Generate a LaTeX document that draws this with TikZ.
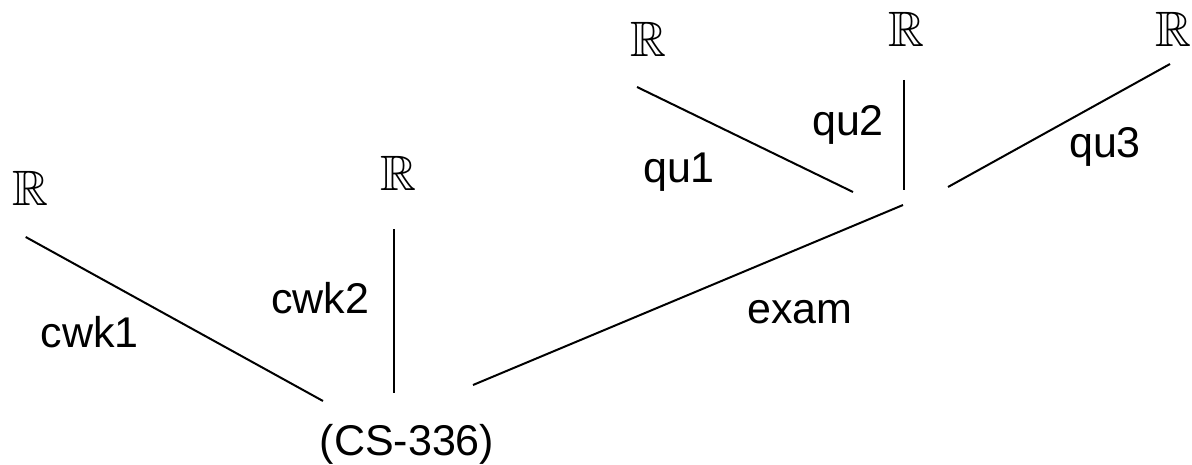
\documentclass[tikz,border=0pt]{standalone}
\usepackage{amssymb}
\usepackage{fontspec}
\setmainfont{Liberation Sans}
\begin{document}
\begin{tikzpicture}[x=0.5pt,y=-0.5pt,
  lbl/.style={inner sep=0pt,anchor=base,font=\fontsize{21.5}{25}\selectfont},
  reals/.style={inner sep=0pt,anchor=base,font=\fontsize{24.88}{28}\selectfont},
  edge/.style={line width=1pt}]
\useasboundingbox (0,0) rectangle (1192,465);
% leaves
\node[reals] (r1) at (30,205) {$\mathbb{R}$};
\node[reals] (r2) at (398,190) {$\mathbb{R}$};
\node[reals] (r3) at (648,57) {$\mathbb{R}$};
\node[reals] (r4) at (906,47) {$\mathbb{R}$};
\node[reals] (r5) at (1173,47) {$\mathbb{R}$};
% root and inner
\node[lbl] (root) at (407,455) {(CS-336)};
\coordinate (ex) at (903,197);
% connector ends
\coordinate (r1e) at (25.7,237);
\coordinate (rootw) at (323,401);
\coordinate (r2e) at (394,229);
\coordinate (rootn) at (394,393);
\coordinate (roote) at (473,385);
\coordinate (exs) at (903,205);
\coordinate (r3e) at (637,87);
\coordinate (exw) at (853,192);
\coordinate (r4e) at (903.5,80);
\coordinate (exn) at (903.5,190);
\coordinate (r5e) at (1170,64);
\coordinate (exe) at (948,187);
% edges
\draw[edge] (r1e) -- (rootw);
\draw[edge] (r2e) -- (rootn);
\draw[edge] (roote) -- (exs);
\draw[edge] (r3e) -- (exw);
\draw[edge] (r4e) -- (exn);
\draw[edge] (r5e) -- (exe);
% labels
\node[lbl] (l1) at (89.5,347) {cwk1};
\node[lbl] (l2) at (320,313) {cwk2};
\node[lbl] (l3) at (800,323) {exam};
\node[lbl] (l4) at (679,182) {qu1};
\node[lbl] (l5) at (848,135) {qu2};
\node[lbl] (l6) at (1105,157) {qu3};
\end{tikzpicture}
\end{document}
